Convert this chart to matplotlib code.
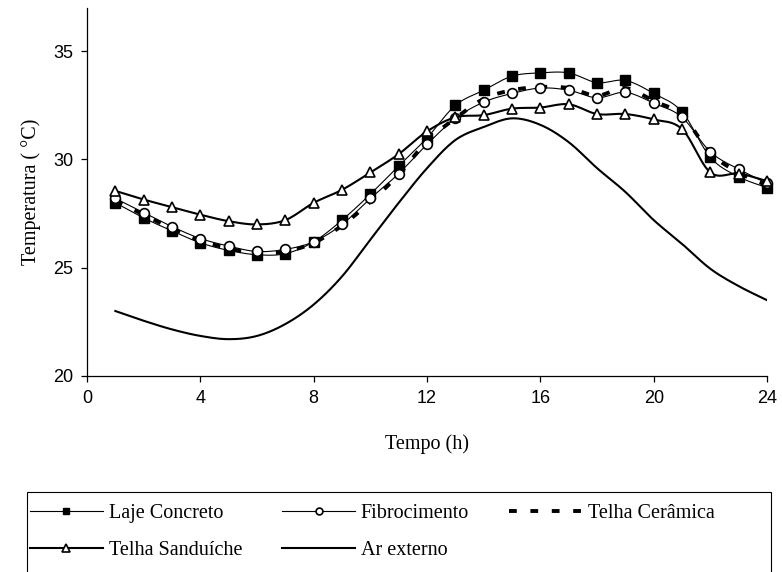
import numpy as np
import matplotlib
matplotlib.use('Agg')
import matplotlib.pyplot as plt

#------------------------------------------------------------------------------
#Dados (temperatura em ºC, hora a hora).
horas = list(range(1, 25))
laje_concreto = [28.0, 27.3, 26.7, 26.15, 25.8, 25.6, 25.65, 26.2, 27.2, 28.4, 29.7, 31.0,
                 32.5, 33.2, 33.85, 34.0, 34.0, 33.55, 33.65, 33.05, 32.2, 30.1, 29.2, 28.7]
fibrocimento = [28.2, 27.55, 26.9, 26.35, 26.0, 25.75, 25.85, 26.2, 27.0, 28.2, 29.35, 30.7,
                31.9, 32.65, 33.05, 33.3, 33.2, 32.85, 33.1, 32.6, 31.95, 30.35, 29.55, 28.9]
telha_ceramica = [28.1, 27.45, 26.8, 26.25, 25.9, 25.65, 25.75, 26.15, 26.95, 28.05, 29.3, 30.85,
                  31.9, 32.8, 33.2, 33.35, 33.3, 32.95, 33.3, 32.7, 32.05, 30.3, 29.4, 28.8]
telha_sanduiche = [28.55, 28.15, 27.8, 27.45, 27.15, 27.0, 27.2, 28.0, 28.6, 29.4, 30.25, 31.3,
                   31.95, 32.05, 32.35, 32.4, 32.55, 32.1, 32.1, 31.85, 31.4, 29.4, 29.35, 29.0]
ar_externo = [23.0, 22.55, 22.15, 21.85, 21.7, 21.85, 22.4, 23.3, 24.6, 26.3, 28.0, 29.6,
              30.9, 31.5, 31.9, 31.6, 30.8, 29.6, 28.5, 27.2, 26.1, 24.95, 24.15, 23.5]

x_ticks = [0, 4, 8, 12, 16, 20, 24]
y_ticks = [20, 25, 30, 35]

N = 12  #pontos por intervalo na curva suavizada


#Suavização tipo Excel (Bezier / Catmull-Rom) só para desenhar a linha.
def suave(x, y, n=N):
    p = np.column_stack([np.asarray(x, float), np.asarray(y, float)])
    pe = np.vstack([p[0], p, p[-1]])
    t = np.linspace(0, 1, n, endpoint=False)[:, None]
    pts = []
    for i in range(len(p) - 1):
        p0, p1, p2, p3 = pe[i], pe[i + 1], pe[i + 2], pe[i + 3]
        c1 = p1 + (p2 - p0) / 6
        c2 = p2 - (p3 - p1) / 6
        pts.append((1 - t)**3 * p1 + 3 * (1 - t)**2 * t * c1 + 3 * (1 - t) * t**2 * c2 + t**3 * p2)
    pts.append(p[-1:])
    pts = np.vstack(pts)
    return pts[:, 0], pts[:, 1]


serif = 'Liberation Serif'
sans = 'Liberation Sans'

fig = plt.figure(figsize=(7.82, 5.72), dpi=100)
ax = fig.add_axes([0.1113, 0.3427, 0.8696, 0.6434])

marcas = slice(0, None, N)

xs, ys = suave(horas, ar_externo)
l_ar, = ax.plot(xs, ys, color='black', lw=1.5, label='Ar externo', zorder=2)

xs, ys = suave(horas, telha_ceramica)
l_cer, = ax.plot(xs, ys, color='black', lw=2.8, dashes=(2.0, 3.5),
                 label='Telha Cerâmica', zorder=3)

xs, ys = suave(horas, laje_concreto)
l_laje, = ax.plot(xs, ys, color='black', lw=0.8, marker='s', markersize=6.5,
                  markevery=marcas, mfc='black', mec='black', label='Laje Concreto',
                  zorder=4, clip_on=False)

xs, ys = suave(horas, fibrocimento)
l_fib, = ax.plot(xs, ys, color='black', lw=0.8, marker='o', markersize=7,
                 markevery=marcas, mfc='white', mec='black', mew=1.2,
                 label='Fibrocimento', zorder=5, clip_on=False)

xs, ys = suave(horas, telha_sanduiche)
l_san, = ax.plot(xs, ys, color='black', lw=1.5, marker='^', markersize=7.5,
                 markevery=marcas, mfc='white', mec='black', mew=1.2,
                 label='Telha Sanduíche', zorder=6, clip_on=False)

#Eixos.
ax.set_xlim(0, 24)
ax.set_ylim(20, 37)
ax.set_xticks(x_ticks)
ax.set_yticks(y_ticks)
for s in ['top', 'right']:
    ax.spines[s].set_visible(False)
for s in ['left', 'bottom']:
    ax.spines[s].set_linewidth(0.9)
ax.tick_params(direction='out', length=4, width=0.9, labelsize=13, pad=6)
for lb in ax.get_xticklabels() + ax.get_yticklabels():
    lb.set_fontfamily(sans)

ax.set_xlabel('Tempo (h)', fontfamily=serif, fontsize=14.5, labelpad=20)
ax.set_ylabel('Temperatura ( °C)', fontfamily=serif, fontsize=14.5, labelpad=9)

#Legenda (ordem por colunas para ficar em linhas como no original).
handles = [l_laje, l_san, l_fib, l_ar, l_cer]
leg = fig.legend(handles=handles, labels=[h.get_label() for h in handles],
                 ncol=3, loc='upper left', bbox_to_anchor=(21 / 782, 0.135),
                 borderaxespad=0.0, prop={'family': serif, 'size': 14.5}, frameon=False,
                 handlelength=3.6, handletextpad=0.3, columnspacing=2.0,
                 labelspacing=0.9, borderpad=0.45, numpoints=1, markerscale=0.7)

#Caixa da legenda (cortada em baixo, como no original).
caixa = plt.Rectangle((27 / 782, -0.01), (771 - 27) / 782, 0.14 + 0.01,
                      transform=fig.transFigure, fill=False, ec='black', lw=0.8)
fig.add_artist(caixa)

fig.savefig('out.png', dpi=100)
